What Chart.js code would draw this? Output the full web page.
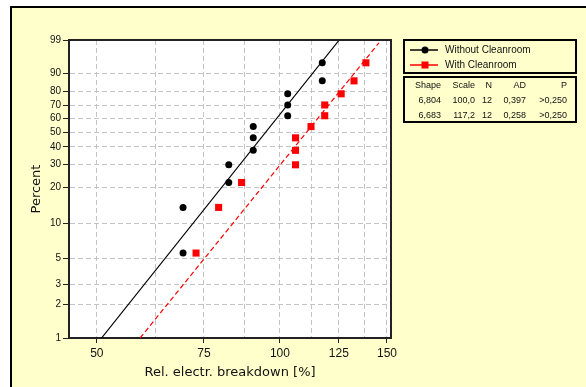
<!DOCTYPE html>
<html>
<head>
<meta charset="utf-8">
<title>Weibull plot - electrical breakdown</title>
<script src="https://cdn.jsdelivr.net/npm/chart.js@4.4.1/dist/chart.umd.min.js"></script>
<style>
  html, body { margin: 0; padding: 0; background: #fff; }
  #wrap { width: 586px; height: 387px; }
</style>
</head>
<body>
<div id="wrap"><canvas id="weibullChart" width="586" height="387"></canvas></div>
<script>
// Weibull probability plot, with / without cleanroom

// median rank (percent) of the 12 samples
const percentRanks = [5.6, 13.7, 21.8, 29.8, 37.9, 46.0, 54.0, 62.1, 70.2, 78.2, 86.3, 94.4];
const withoutCleanroom = [69.3, 69.3, 82.4, 82.4, 90.4, 90.4, 90.4, 103.0, 103.0, 103.0, 117.4, 117.4];
const withCleanroom = [72.8, 79.3, 86.5, 106.1, 106.1, 106.1, 112.5, 118.5, 118.5, 126.1, 132.4, 138.5];

// fitted lines, end points
const fitWithoutX = [50.9, 125.2];
const fitWithoutP = [1, 99];
const fitWithX = [58.9, 145.5];
const fitWithP = [1, 98.7];

const seriesNames = ['Without Cleanroom', 'With Cleanroom'];
const xTickLabels = [50, 75, 100, 125, 150];
const xGridValues = [50, 62.5, 75, 87.5, 100, 112.5, 125, 137.5, 150];
const yTickLabels = [1, 2, 3, 5, 10, 20, 30, 40, 50, 60, 70, 80, 90, 99];

const statsHeader = ['Shape', 'Scale', 'N', 'AD', 'P'];
const statsRows = [
  ['6,804', '100,0', '12', '0,397', '>0,250'],
  ['6,683', '117,2', '12', '0,258', '>0,250']
];

// weibull probability paper: y = ln(-ln(1-p))
function weib(p) {
  return Math.log(-Math.log(1 - p / 100));
}

function toPoints(xs, ps) {
  return xs.map((x, i) => ({ x: x, y: weib(ps[i]) }));
}

Chart.defaults.font.family = '"Liberation Sans", Arial, sans-serif';

const GRID = '#c4c4c4';
const AXIS = '#222';

const paperPlugin = {
  id: 'paper',
  beforeDraw(chart) {
    const { ctx, chartArea: a } = chart;
    ctx.save();
    ctx.fillStyle = '#fff';
    ctx.fillRect(0, 0, chart.width, chart.height);
    ctx.fillStyle = '#000';
    ctx.fillRect(10, 6, chart.width - 10, 2);
    ctx.fillRect(10, 6, 2, chart.height - 6);
    ctx.fillStyle = '#ffffcc';
    ctx.fillRect(12, 8, chart.width - 12, chart.height - 8);
    ctx.fillStyle = '#fff';
    ctx.fillRect(a.left, a.top, a.right - a.left, a.bottom - a.top);
    ctx.restore();
  },
  afterDraw(chart) {
    const { ctx, chartArea: a } = chart;
    ctx.save();
    // top + right edge of the plot frame
    ctx.strokeStyle = AXIS;
    ctx.lineWidth = 2;
    ctx.beginPath();
    ctx.moveTo(a.left - 1, a.top);
    ctx.lineTo(a.right, a.top);
    ctx.lineTo(a.right, a.bottom + 1);
    ctx.stroke();

    // legend box
    ctx.strokeStyle = '#000';
    ctx.strokeRect(404, 40, 172, 33);
    ctx.strokeRect(404, 77, 172, 45);

    const colors = ['#000', '#ff0000'];
    const rowY = [50, 65];
    ctx.font = '10px "Liberation Sans"';
    ctx.textBaseline = 'middle';
    seriesNames.forEach((name, i) => {
      const y = rowY[i];
      ctx.strokeStyle = colors[i];
      ctx.fillStyle = colors[i];
      ctx.lineWidth = 1.5;
      ctx.beginPath();
      ctx.moveTo(410, y);
      ctx.lineTo(438, y);
      ctx.stroke();
      if (i === 0) {
        ctx.beginPath();
        ctx.arc(425, y, 3.5, 0, Math.PI * 2);
        ctx.fill();
      } else {
        ctx.fillRect(421.5, y - 3.5, 7, 7);
      }
      ctx.fillStyle = '#111';
      ctx.textAlign = 'left';
      ctx.fillText(name, 445, y);
    });

    // stats table
    const colRight = [441, 475, 492, 526, 567];
    ctx.font = '9px "Liberation Sans"';
    ctx.textAlign = 'right';
    ctx.fillStyle = '#111';
    statsHeader.forEach((h, c) => ctx.fillText(h, colRight[c], 85.5));
    statsRows.forEach((row, r) => {
      row.forEach((v, c) => ctx.fillText(v, colRight[c], 100.5 + r * 15));
    });
    ctx.restore();
  }
};

new Chart(document.getElementById('weibullChart'), {
  type: 'scatter',
  data: {
    datasets: [
      {
        label: seriesNames[0],
        data: toPoints(withoutCleanroom, percentRanks),
        pointStyle: 'circle',
        pointRadius: 3.5,
        backgroundColor: '#000',
        borderColor: '#000',
        borderWidth: 0
      },
      {
        label: seriesNames[1],
        data: toPoints(withCleanroom, percentRanks),
        pointStyle: 'rect',
        pointRadius: 5,
        backgroundColor: '#ff0000',
        borderColor: '#ff0000',
        borderWidth: 0
      },
      {
        label: 'Fit ' + seriesNames[0],
        type: 'line',
        data: toPoints(fitWithoutX, fitWithoutP),
        borderColor: '#000',
        borderWidth: 1.2,
        pointRadius: 0,
        fill: false,
        tension: 0
      },
      {
        label: 'Fit ' + seriesNames[1],
        type: 'line',
        data: toPoints(fitWithX, fitWithP),
        borderColor: '#ff0000',
        borderWidth: 1.2,
        borderDash: [5, 3],
        pointRadius: 0,
        fill: false,
        tension: 0
      }
    ]
  },
  options: {
    responsive: false,
    animation: false,
    layout: { padding: { left: 0, top: 40, right: 195, bottom: 0 } },
    plugins: {
      legend: { display: false },
      tooltip: { enabled: false }
    },
    scales: {
      x: {
        type: 'logarithmic',
        min: 45,
        max: 152.3,
        afterBuildTicks: s => { s.ticks = xGridValues.map(v => ({ value: v })); },
        afterFit: s => { s.height = 49; },
        ticks: {
          font: { size: 12 },
          color: '#111',
          padding: 3,
          maxRotation: 0,
          autoSkip: false,
          callback: v => xTickLabels.includes(v) ? String(v) : ''
        },
        grid: {
          color: GRID,
          tickLength: 5,
          tickBorderDash: [],
          tickColor: c => (c.tick && xTickLabels.includes(c.tick.value)) ? AXIS : 'rgba(0,0,0,0)'
        },
        border: { color: AXIS, width: 2, dash: [5, 3] },
        title: {
          display: true,
          text: 'Rel. electr. breakdown [%]',
          font: { family: '"DejaVu Sans"', size: 13 },
          color: '#111',
          padding: { top: 0, bottom: 7 }
        }
      },
      y: {
        type: 'linear',
        min: weib(1),
        max: weib(99),
        afterBuildTicks: s => { s.ticks = yTickLabels.map(p => ({ value: weib(p) })); },
        afterFit: s => { s.width = 69; },
        ticks: {
          font: { size: 10 },
          color: '#111',
          padding: 2,
          autoSkip: false,
          callback: (v, i) => String(yTickLabels[i])
        },
        grid: { color: GRID, tickLength: 6, tickColor: AXIS, tickBorderDash: [] },
        border: { color: AXIS, width: 2, dash: [5, 3] },
        title: {
          display: true,
          text: 'Percent',
          font: { family: '"DejaVu Sans"', size: 13 },
          color: '#111',
          padding: { top: 29, bottom: 0 }
        }
      }
    }
  },
  plugins: [paperPlugin]
});
</script>
</body>
</html>
